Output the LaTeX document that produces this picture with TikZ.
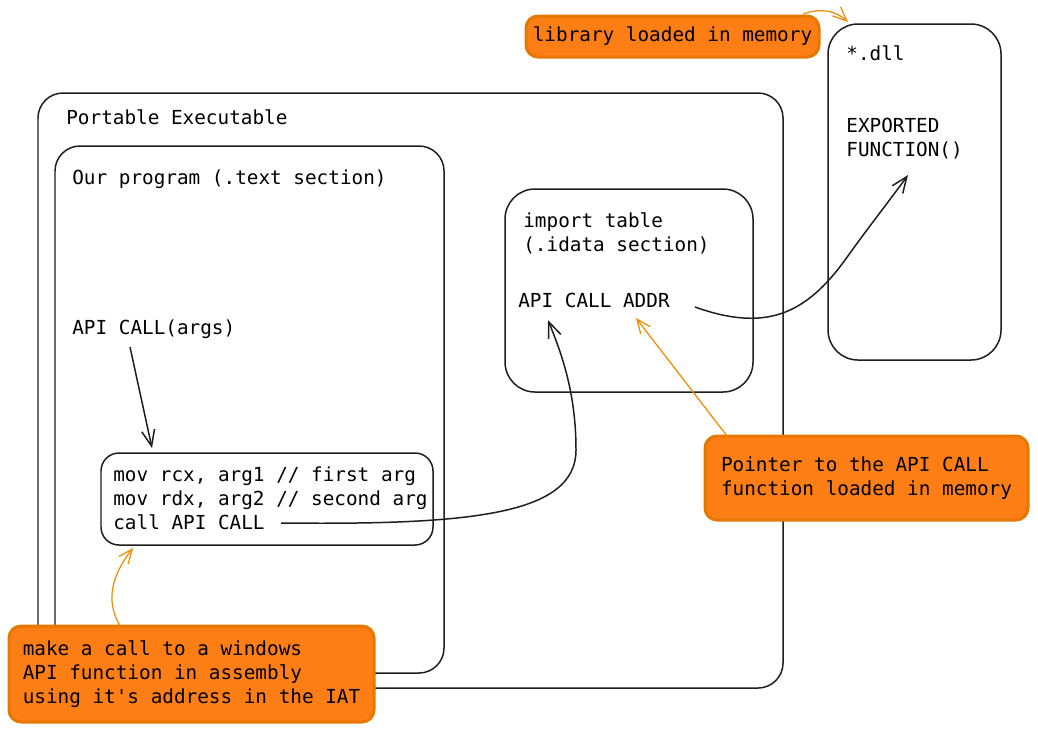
\documentclass[tikz,border=0pt]{standalone}
\usepackage{fontspec}
\setmonofont{DejaVu Sans Mono}
\usepackage{tikz}
\usetikzlibrary{positioning, arrows.meta, calc}
\definecolor{lineColor}{RGB}{30, 30, 30}
\definecolor{noteFill}{RGB}{253, 126, 20}
\definecolor{noteStroke}{RGB}{230, 119, 0}
\definecolor{noteLine}{RGB}{240, 140, 0}
\tikzset{
    sketch_box/.style={
        draw=lineColor,
        line width=0.85pt,
        rounded corners=5mm,
        inner sep=0pt,
        outer sep=0pt,
        anchor=north west
    },
    note_box/.style={
        draw=noteStroke,
        fill=noteFill,
        line width=1.7pt,
        rounded corners=2.4mm,
        inner sep=0pt,
        outer sep=0pt,
        anchor=north west,
        align=left,
        text=black,
        font=\ttfamily\fontsize{11}{13.6}\selectfont
    },
    mono_text/.style={
        inner sep=0pt,
        align=left,
        text=black,
        font=\ttfamily\fontsize{11}{13.6}\selectfont
    },
    code_edge/.style={
        -{Straight Barb[length=3.2mm, width=2.6mm]},
        line width=0.85pt,
        draw=lineColor
    },
    note_edge/.style={
        -{Straight Barb[length=2.8mm, width=2.4mm]},
        line width=0.7pt,
        draw=noteLine
    }
}

\begin{document}
\begin{tikzpicture}[x=0.2mm, y=-0.2mm]
    \fill[white] (0,0) rectangle (1038,732);
    \useasboundingbox (0,0) rectangle (1038,732);

    % boxes
    \node[sketch_box, minimum width=149mm, minimum height=119mm] (pe) at (38,93) {};
    \node[sketch_box, minimum width=77.8mm, minimum height=105.4mm] (prog) at (55,146) {};
    \node[sketch_box, minimum width=66.4mm, minimum height=18.4mm, rounded corners=3.6mm] (code) at (101,453) {};
    \node[sketch_box, minimum width=49.6mm, minimum height=40.6mm, rounded corners=6mm] (imp) at (505,189) {};
    \node[sketch_box, minimum width=34.6mm, minimum height=67.2mm, rounded corners=6mm] (dll) at (828,24) {};

    % texts
    \node[mono_text, anchor=base west] (petitle) at (66,124) {Portable Executable};
    \node[mono_text, anchor=base west] (progtitle) at (72,184) {Our program (.text section)};
    \node[mono_text, anchor=base west] (args) at (72,334) {API CALL(args)};
    \node[mono_text, anchor=west] (codetext) at (113,498)
        {mov rcx, arg1 // first arg\\mov rdx, arg2 // second arg\\call API CALL};
    \node[mono_text, anchor=west] (imptitle) at (523,233) {import table\\(.idata section)};
    \node[mono_text, anchor=base west] (addr) at (518,307) {API CALL ADDR};
    \node[mono_text, anchor=base west] (dlltitle) at (846,60) {*.dll};
    \node[mono_text, anchor=west] (func) at (846,139) {EXPORTED\\FUNCTION()};

    % connectors
    \draw[code_edge] ($(args.base west)+(58,13)$) -- ($(code.north west)+(51,-5)$);
    \draw[code_edge] ($(code.south west)+(180,-22)$)
        .. controls (470,525) and (576,515) .. (576,450)
        .. controls (576,390) and (560,350) .. ($(addr.base west)+(30,13)$);
    \draw[code_edge] ($(addr.base west)+(177,0)$)
        .. controls (765,332) and (805,315) .. (845,260)
        .. controls (870,225) and (890,200) .. ($(func.west)+(62,36)$);

    % notes
    \node[note_box, minimum width=58.6mm, minimum height=8.2mm] (libnote) at (526,16) {library loaded in memory};
    \node[note_box, minimum width=64.6mm, minimum height=16.8mm] (ptrnote) at (705,436)
        {Pointer to the API CALL\\function loaded in memory};
    \node[note_box, minimum width=73mm, minimum height=19.2mm] (callnote) at (9,626)
        {make a call to a windows\\API function in assembly\\using it's address in the IAT};

    \draw[note_edge] ($(ptrnote.north west)+(22,0)$) -- ($(addr.base west)+(118,11)$);
    \draw[note_edge] ($(callnote.north west)+(111,0)$)
        .. controls (105,600) and (112,575) .. ($(code.south west)+(32,3)$);
    \draw[note_edge] ($(libnote.north east)+(-16,-2)$)
        .. controls (820,8) and (835,10) .. ($(dll.north west)+(20,-2)$);
\end{tikzpicture}
\end{document}
